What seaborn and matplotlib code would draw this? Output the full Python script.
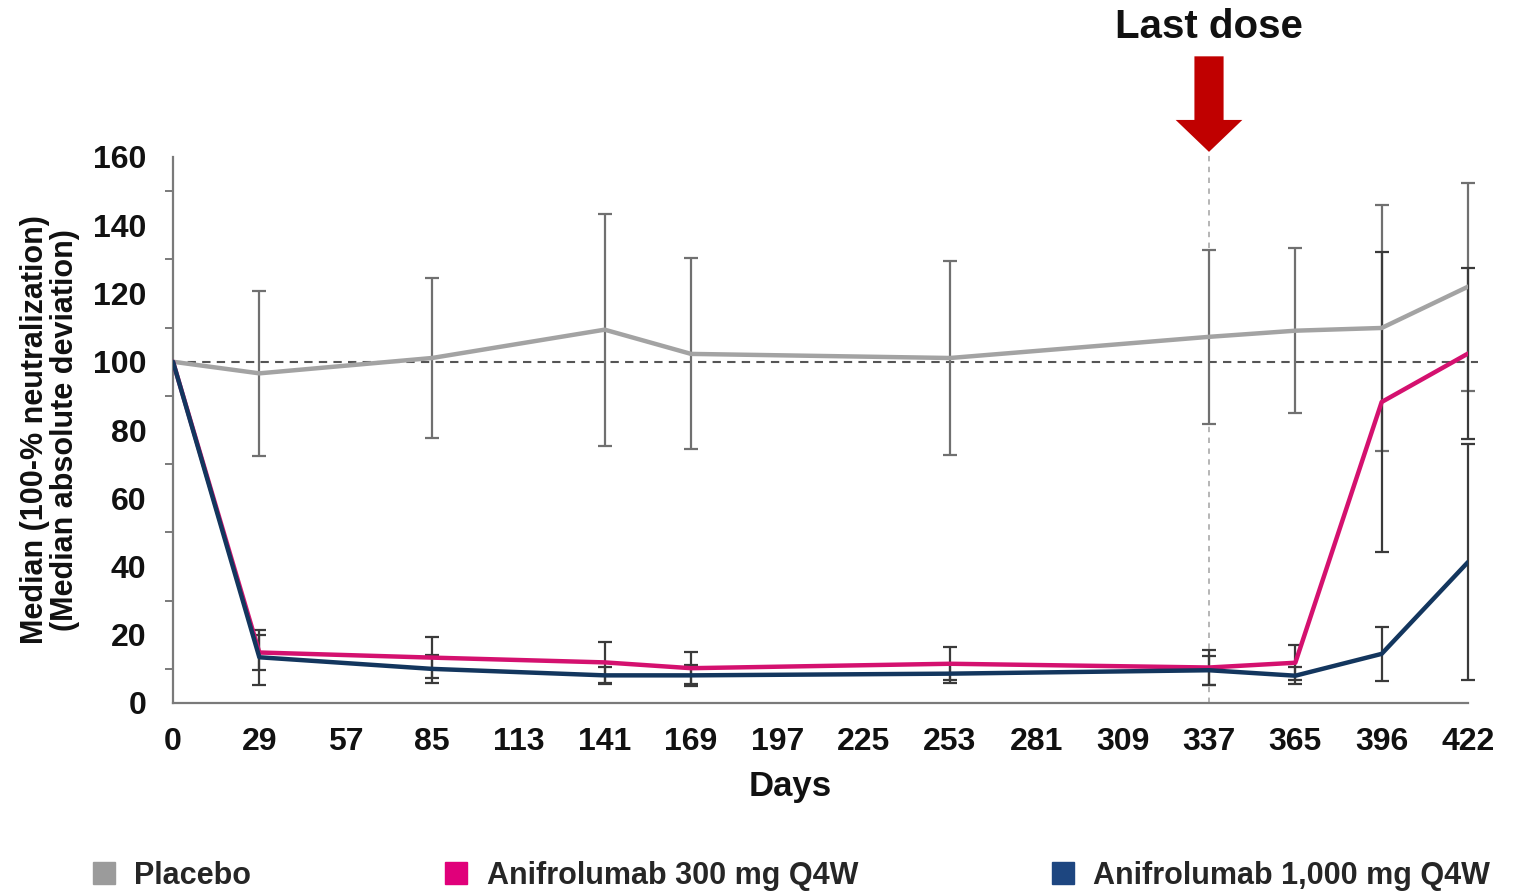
import numpy as np
import pandas as pd
import matplotlib
matplotlib.use("Agg")
import matplotlib.pyplot as plt
from matplotlib.lines import Line2D
from matplotlib.ticker import MultipleLocator
import seaborn as sns

# tick labels on the x axis (evenly spaced, categorical)
tick_days = [0, 29, 57, 85, 113, 141, 169, 197, 225, 253, 281, 309, 337, 365, 396, 422]

# measured visits
days = [0, 29, 85, 141, 169, 253, 337, 365, 396, 422]
placebo = [100, 96.6, 101.1, 109.4, 102.3, 101.1, 107.3, 109.1, 109.9, 122.0]
placebo_err = [0, 24.2, 23.3, 34.0, 28.0, 28.4, 25.4, 24.2, 36.0, 30.5]
ani300 = [100, 14.8, 13.3, 11.9, 10.2, 11.5, 10.4, 11.8, 88.2, 102.4]
ani300_err = [0, 5.0, 6.0, 6.0, 4.7, 4.8, 5.0, 5.2, 44.0, 25.0]
ani1000 = [100, 13.4, 10.0, 8.1, 8.1, 8.6, 9.6, 8.0, 14.4, 41.3]
ani1000_err = [0, 8.0, 4.0, 2.5, 3.0, 2.8, 4.2, 2.5, 8.0, 34.5]

groups = ["Placebo", "Anifrolumab 300 mg Q4W", "Anifrolumab 1,000 mg Q4W"]
line_colors = ["#a3a3a3", "#d4116f", "#13365e"]
legend_colors = ["#9b9b9b", "#e0007a", "#1d4680"]
err_colors = ["#707070", "#3a3a3a", "#3a3a3a"]

pos = [tick_days.index(d) for d in days]
values = [placebo, ani300, ani1000]
errors = [placebo_err, ani300_err, ani1000_err]

df = pd.concat([
    pd.DataFrame({"pos": pos, "value": v, "err": e, "group": g})
    for g, v, e in zip(groups, values, errors)
])

sns.set_style("white")
plt.rcParams["font.family"] = ["Liberation Sans", "DejaVu Sans"]
plt.rcParams["font.weight"] = "bold"

fig = plt.figure(figsize=(15.22, 8.94), dpi=100)
ax = fig.add_axes([173 / 1522, 1 - 703 / 894, (1468 - 173) / 1522, (703 - 157) / 894])

# reference line at 100
ax.axhline(100, xmin=0, xmax=1.008, color="#555555", lw=1.5, ls=(0, (4, 3)), clip_on=False, zorder=1)

# error bars
for g, ec in zip(groups, err_colors):
    sub = df[(df.group == g) & (df.err > 0)]
    ax.errorbar(sub.pos, sub.value, yerr=sub.err, fmt="none", ecolor=ec,
                elinewidth=1.6, capsize=5, capthick=1.6, zorder=2, clip_on=False)

sns.lineplot(data=df, x="pos", y="value", hue="group", hue_order=groups,
             palette=line_colors, lw=3.2, legend=False, ax=ax, zorder=3,
             sort=False, estimator=None)

ax.set_xlim(0, len(tick_days) - 1)
ax.set_ylim(0, 160)
ax.set_xticks(range(len(tick_days)))
ax.set_xticklabels([str(d) for d in tick_days])
ax.yaxis.set_major_locator(MultipleLocator(20))
ax.yaxis.set_minor_locator(MultipleLocator(10))

for s in ["top", "right"]:
    ax.spines[s].set_visible(False)
for s in ["left", "bottom"]:
    ax.spines[s].set_color("#7a7a7a")
    ax.spines[s].set_linewidth(1.6)

ax.tick_params(axis="both", which="major", direction="out", color="#7a7a7a",
               width=1.4, labelsize=23, labelcolor="#111111")
ax.tick_params(axis="x", which="major", length=9, pad=8)
ax.tick_params(axis="y", which="major", length=9, pad=10)
ax.tick_params(axis="y", which="minor", length=6, width=1.4, color="#7a7a7a", left=True)
for lab in ax.get_xticklabels() + ax.get_yticklabels():
    lab.set_fontweight("bold")

ax.set_xlabel("Days", fontsize=25, fontweight="bold", color="#111111")
ax.xaxis.set_label_coords((790 - 173) / 1295, -(770 - 703) / 546)
ax.set_ylabel("Median (100-% neutralization)\n(Median absolute deviation)",
              fontsize=22, fontweight="bold", color="#111111", linespacing=1.0)
ax.yaxis.set_label_coords(-(173 - 80) / 1295, 0.5)

# last dose marker
last_pos = tick_days.index(337)
ax.plot([last_pos, last_pos], [0, 161.5], color="#b0b0b0", lw=1.3, ls=(0, (3, 3)),
        clip_on=False, zorder=1)
ax.annotate("", xy=(last_pos, 161.5), xytext=(last_pos, 189.5),
            xycoords="data", annotation_clip=False,
            arrowprops=dict(arrowstyle="simple,head_length=2.3,head_width=4.8,tail_width=2.1",
                            mutation_scale=10, color="#c00000", shrinkA=0, shrinkB=0, lw=0))
ax.text(last_pos, 198, "Last dose", ha="center", va="center", fontsize=29,
        fontweight="bold", color="#111111", clip_on=False)

handles = [Line2D([], [], marker="s", ls="none", markersize=16, color=c,
                  markeredgecolor=c) for c in legend_colors]
fig.legend(handles, groups, loc="center left", bbox_to_anchor=(64 / 1522, 1 - 876 / 894),
           ncol=3, frameon=False, handlelength=0.8, handletextpad=0.6,
           columnspacing=6.3, prop={"weight": "bold", "size": 22})

fig.savefig("out.png", dpi=100)
